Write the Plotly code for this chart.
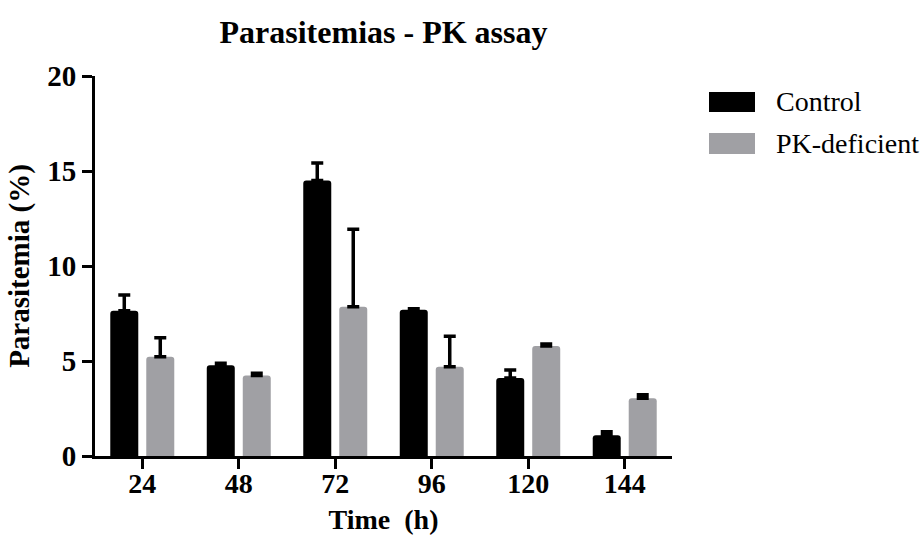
import plotly.graph_objects as go

# Parasitemia (%) per time point, mean and SD
times = ["24", "48", "72", "96", "120", "144"]
control_mean = [7.65, 4.78, 14.5, 7.7, 4.1, 1.09]
control_sd = [0.83, 0.10, 0.92, 0.05, 0.42, 0.18]
pk_mean = [5.22, 4.24, 7.86, 4.7, 5.79, 3.04]
pk_sd = [1.01, 0.12, 4.07, 1.60, 0.10, 0.18]
series_names = ["Control", "PK-deficient"]
colors = ["#000000", "#A0A0A4"]

FONT = "Times New Roman, Liberation Serif, serif"
W, H = 924, 545
M = dict(l=95, r=252, t=76, b=89)
pw = W - M["l"] - M["r"]
ph = H - M["t"] - M["b"]


def px_x(px):
    return (px - M["l"]) / pw


def px_y(py):
    return (H - M["b"] - py) / ph


fig = go.Figure()
for name, mean, sd, col in [
    (series_names[0], control_mean, control_sd, colors[0]),
    (series_names[1], pk_mean, pk_sd, colors[1]),
]:
    fig.add_trace(go.Bar(
        x=times, y=mean, name=name,
        marker=dict(color=col, line=dict(width=0), cornerradius=3),
        error_y=dict(type="data", array=sd, arrayminus=[0] * len(sd),
                     symmetric=False, color="#000000", thickness=3.5, width=6),
        showlegend=False,
    ))

# Legend drawn as large swatches with text labels
legend_rows = [(series_names[0], colors[0], 92, 112, 101),
               (series_names[1], colors[1], 133, 154, 143)]
for name, col, y0, y1, yt in legend_rows:
    fig.add_shape(type="rect", xref="paper", yref="paper",
                  x0=px_x(709), x1=px_x(755), y0=px_y(y1), y1=px_y(y0),
                  fillcolor=col, line=dict(width=0), layer="above")
    fig.add_annotation(text=name, xref="paper", yref="paper",
                       x=px_x(774), y=px_y(yt), xanchor="left", yanchor="middle",
                       showarrow=False,
                       font=dict(family=FONT, size=28, color="#000000"))

bold = dict(family=FONT, color="#000000", weight="bold")

fig.update_layout(
    width=W, height=H,
    margin=M,
    paper_bgcolor="white", plot_bgcolor="white",
    barmode="group", bargap=0.254, bargroupgap=0.222,
    title=dict(text="Parasitemias - PK assay", x=0.5, xref="paper",
               y=1 - 32 / H, yanchor="middle",
               font=dict(bold, size=32)),
    font=dict(family=FONT, color="#000000"),
    xaxis=dict(
        type="category", range=[-0.49, 5.49], automargin=False,
        showline=True, linecolor="#000000", linewidth=3,
        ticks="outside", ticklen=10, tickwidth=3, tickcolor="#000000",
        ticklabelstandoff=-10,
        tickfont=dict(bold, size=28),
        showgrid=False, zeroline=False,
        title=dict(text="Time  (h)", standoff=12,
                   font=dict(bold, size=28)),
    ),
    yaxis=dict(
        range=[0, 20], tickvals=[0, 5, 10, 15, 20], automargin=False,
        showline=True, linecolor="#000000", linewidth=3,
        ticks="outside", ticklen=10, tickwidth=3, tickcolor="#000000",
        tickfont=dict(bold, size=29),
        showgrid=False, zeroline=False,
        title=dict(text="Parasitemia (%)", standoff=10,
                   font=dict(bold, size=29)),
    ),
)

fig.write_html("out.html")
